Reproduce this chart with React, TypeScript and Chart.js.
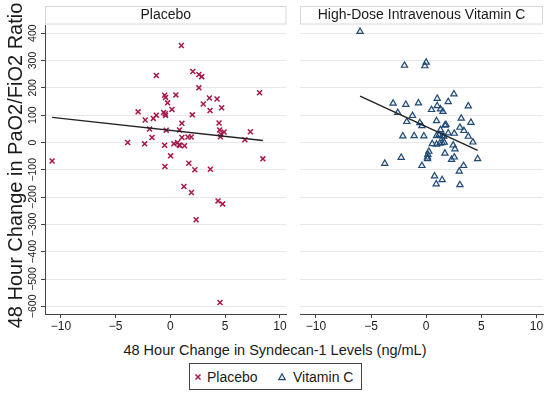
import React, { useEffect, useRef } from "react";
import { Chart, registerables } from "chart.js";
Chart.register(...registerables);

// ---------- data ----------
const xTicks = [-10, -5, 0, 5, 10];
const yTicks = [400, 300, 200, 100, 0, -100, -200, -300, -400, -500, -600];
const xRange = [-11.45, 10.6];
const yRange = [-628, 430];

const placeboX = [1.0, -10.8, -3.9, -2.95, -2.35, -2.3, -1.9, -1.68, -1.56, -1.29, -1.29, -0.53, -0.44, -0.26, -0.62, -0.47, -0.44, 0.14, 0.5, -0.38, -0.53, -0.5, 0.02, 0.32, 0.65, 0.8, 0.86, 1.29, 0.83, 1.05, 1.05, 1.6, 1.9, 2.0, 2.05, 2.6, 2.86, 2.6, 3.0, 3.56, 3.62, 4.26, 4.68, 4.44, 4.5, 4.62, 4.56, 4.9, 7.3, 6.8, 8.14, 8.44, 1.68, 2.23, 3.65, 1.23, 1.92, 4.35, 4.77, 2.35, 4.53];
const placeboY = [355, -68, 0, 112, -5, 82, 49, 18, 88, 100, 245, 173, 165, 145, 110, 105, 99, 121, 174, 45, -10, -88, -49, -5, 0, -9, -11, -12, 46, 70, 18, 20, 20, 101, 260, 249, 241, 200, 141, 163, 117, 159, 127, 71, 46, 30, 21, 38, 39, 10, 182, -60, -76, -100, -98, -161, -183, -214, -225, -283, -586];

const vitcX = [-6.0, -1.97, -0.12, 0, -3.0, -1.85, -0.7, -2.58, -1.24, -1.76, -0.58, -0.39, -2.12, -1.09, -0.21, 0.48, 1.0, 1.0, 1.3, 1.52, 2.0, 2.52, 3.82, 0.94, 1.7, 1.79, 1.3, 2.0, 2.55, 0.94, 1.18, 1.45, 1.6, 3.18, 4.06, 3.06, 3.42, 3.82, 4.24, 4.67, 0.55, 0.94, 1.24, 1.45, 1.64, 2.45, 2.61, 1.7, 2.55, 2.3, 0.24, 0.15, 0.12, 0.12, -2.27, -3.76, -0.39, 3.39, 3.0, 0.76, 1.45, 0.91, 3.06];
const vitcY = [406, 282, 280, 293, 143, 139, 144, 109, 98, 76, 72, 61, 23, 24, 23, 120, 161, 134, 122, 113, 149, 177, 133, 79, 63, 65, 46, 34, 33, 24, 28, 24, 22, 88, 73, 55, 43, 22, 1, -60, -5, -7, -3, -1, 0, -10, -24, -40, -54, -63, -33, -44, -54, -60, -55, -77, -85, -85, -106, -123, -137, -152, -155];

const placeboFitX = [-10.8, 8.44];
const placeboFitY = [92, 7];
const vitcFitX = [-6.0, 4.67];
const vitcFitY = [170, -29];

const yTitle = "48 Hour Change in PaO2/FiO2 Ratio";
const xTitle = "48 Hour Change in Syndecan-1 Levels (ng/mL)";

// ---------- style ----------
const FONT = "'Liberation Sans', Arial, Helvetica, sans-serif";
const RED = "#a8174a";
const NAVY = "#1f4a75";
const GRID = "#e8e8e8";
const AXIS = "#444";
const TEXT = "#1a1a1a";

const fmt = (v: number) => (v < 0 ? "\u2212" + Math.abs(v) : String(v));
const pts = (xs: number[], ys: number[]) => xs.map((x, i) => ({ x, y: ys[i] }));

const headerPlugin = (text: string) => ({
  id: "hdr",
  afterDraw(chart: any) {
    const { ctx, chartArea } = chart;
    ctx.save();
    ctx.strokeStyle = "#d8d8d8";
    ctx.lineWidth = 1;
    ctx.fillStyle = "#fff";
    const l = chartArea.left + 0.5;
    const w = chartArea.right - chartArea.left - 1;
    ctx.fillRect(l, 6.5, w, 17.5);
    ctx.strokeRect(l, 6.5, w, 17.5);
    ctx.fillStyle = TEXT;
    ctx.font = `14px ${FONT}`;
    ctx.textAlign = "center";
    ctx.textBaseline = "middle";
    ctx.fillText(text, (chartArea.left + chartArea.right) / 2, 15.5);
    ctx.restore();
  },
});

const yLabelPlugin = {
  id: "yRot",
  afterDraw(chart: any) {
    const s = chart.scales.y;
    const ctx = chart.ctx;
    ctx.save();
    ctx.font = `10.5px ${FONT}`;
    ctx.fillStyle = TEXT;
    ctx.textAlign = "center";
    ctx.textBaseline = "middle";
    for (const v of yTicks) {
      const y = s.getPixelForValue(v);
      ctx.save();
      ctx.translate(s.right - 11.5, y);
      ctx.rotate(-Math.PI / 2);
      ctx.fillText(fmt(v), 0, 0);
      ctx.restore();
    }
    // axis title
    ctx.font = `20px ${FONT}`;
    ctx.save();
    ctx.translate(16, (chart.chartArea.top + chart.chartArea.bottom) / 2 - 4);
    ctx.rotate(-Math.PI / 2);
    ctx.fillText(yTitle, 0, 0);
    ctx.restore();
    ctx.restore();
  },
};

function xScale() {
  return {
    type: "linear",
    min: xRange[0],
    max: xRange[1],
    afterBuildTicks: (s: any) => {
      s.ticks = xTicks.map((v) => ({ value: v }));
    },
    afterFit: (s: any) => {
      s.height = 18;
    },
    grid: { drawOnChartArea: false, drawTicks: true, tickLength: 4, tickColor: AXIS, tickWidth: 1 },
    border: { display: true, color: AXIS, width: 1 },
    ticks: {
      font: { family: FONT, size: 12 },
      color: TEXT,
      padding: 1,
      maxRotation: 0,
      autoSkip: false,
      callback: (v: any) => fmt(Number(v)),
    },
  };
}

function makeChart(canvas: HTMLCanvasElement, left: boolean) {
  const scatter = left
    ? {
        label: "Placebo",
        data: pts(placeboX, placeboY),
        pointStyle: "crossRot",
        pointRadius: 3.5,
        borderColor: RED,
        backgroundColor: RED,
        pointBorderWidth: 1.5,
        borderWidth: 1.5,
        order: 2,
      }
    : {
        label: "Vitamin C",
        data: pts(vitcX, vitcY),
        pointStyle: "triangle",
        pointRadius: 3.6,
        borderColor: NAVY,
        backgroundColor: "rgba(31,74,117,0.08)",
        pointBorderWidth: 1.2,
        borderWidth: 1.2,
        order: 2,
      };
  const fit = {
    type: "line",
    label: "fit",
    data: left ? pts(placeboFitX, placeboFitY) : pts(vitcFitX, vitcFitY),
    showLine: true,
    borderColor: "#222",
    borderWidth: 1.4,
    pointRadius: 0,
    fill: false,
    order: 1,
  };
  const yScale: any = {
    type: "linear",
    min: yRange[0],
    max: yRange[1],
    afterBuildTicks: (s: any) => {
      s.ticks = yTicks.map((v) => ({ value: v }));
    },
  };
  if (left) {
    Object.assign(yScale, {
      afterFit: (s: any) => {
        s.width = 45;
      },
      grid: { color: GRID, lineWidth: 1, drawTicks: true, tickLength: 4, tickColor: AXIS, tickWidth: 1 },
      border: { display: true, color: AXIS, width: 1 },
      ticks: { color: "rgba(0,0,0,0)", font: { family: FONT, size: 10 }, padding: 2 },
    });
  } else {
    Object.assign(yScale, {
      afterFit: (s: any) => {
        s.width = 8;
      },
      grid: { color: GRID, lineWidth: 1, drawTicks: false },
      border: { display: false },
      ticks: { display: false },
    });
  }
  return new Chart(canvas, {
    type: "scatter",
    data: { datasets: [scatter as any, fit as any] },
    options: {
      animation: false,
      responsive: false,
      devicePixelRatio: 1,
      layout: { padding: { top: 25, right: left ? 4 : 7, left: 0, bottom: 0 } },
      plugins: { legend: { display: false }, tooltip: { enabled: false } },
      scales: { x: xScale() as any, y: yScale },
    },
    plugins: left ? [headerPlugin("Placebo"), yLabelPlugin] : [headerPlugin("High-Dose Intravenous Vitamin C")],
  } as any);
}

export default function App() {
  const leftRef = useRef<HTMLCanvasElement>(null);
  const rightRef = useRef<HTMLCanvasElement>(null);
  useEffect(() => {
    const a = makeChart(leftRef.current!, true);
    const b = makeChart(rightRef.current!, false);
    return () => {
      a.destroy();
      b.destroy();
    };
  }, []);
  const textStyle: React.CSSProperties = { fontFamily: FONT, fontSize: 14, color: TEXT, position: "absolute", whiteSpace: "nowrap" };
  return (
    <div style={{ position: "fixed", left: 0, top: 0, width: 550, height: 397, background: "#fff", overflow: "hidden" }}>
      <canvas ref={leftRef} width={292} height={332} style={{ position: "absolute", left: 0, top: 0, width: 292, height: 332 }} />
      <canvas ref={rightRef} width={258} height={332} style={{ position: "absolute", left: 292, top: 0, width: 258, height: 332 }} />
      <div style={{ ...textStyle, left: 0, top: 340, width: 550, textAlign: "center", lineHeight: "20px", fontSize: 14.5 }}>
        {xTitle}
      </div>
      <div style={{ position: "absolute", left: 189, top: 363, width: 173, height: 27, border: `1px solid ${AXIS}`, boxSizing: "border-box" }}>
        <svg width={10} height={10} style={{ position: "absolute", left: 3, top: 8 }}>
          <path d="M2.5 2.5 L7.5 7.5 M7.5 2.5 L2.5 7.5" stroke={RED} strokeWidth={1.5} />
        </svg>
        <span style={{ ...textStyle, left: 17, top: 4, lineHeight: "18px" }}>Placebo</span>
        <svg width={10} height={10} style={{ position: "absolute", left: 87, top: 8 }}>
          <path d="M5 1.8 L8.2 7.6 L1.8 7.6 Z" stroke={NAVY} strokeWidth={1.2} fill="rgba(31,74,117,0.08)" />
        </svg>
        <span style={{ ...textStyle, left: 103, top: 4, lineHeight: "18px" }}>Vitamin C</span>
      </div>
    </div>
  );
}
